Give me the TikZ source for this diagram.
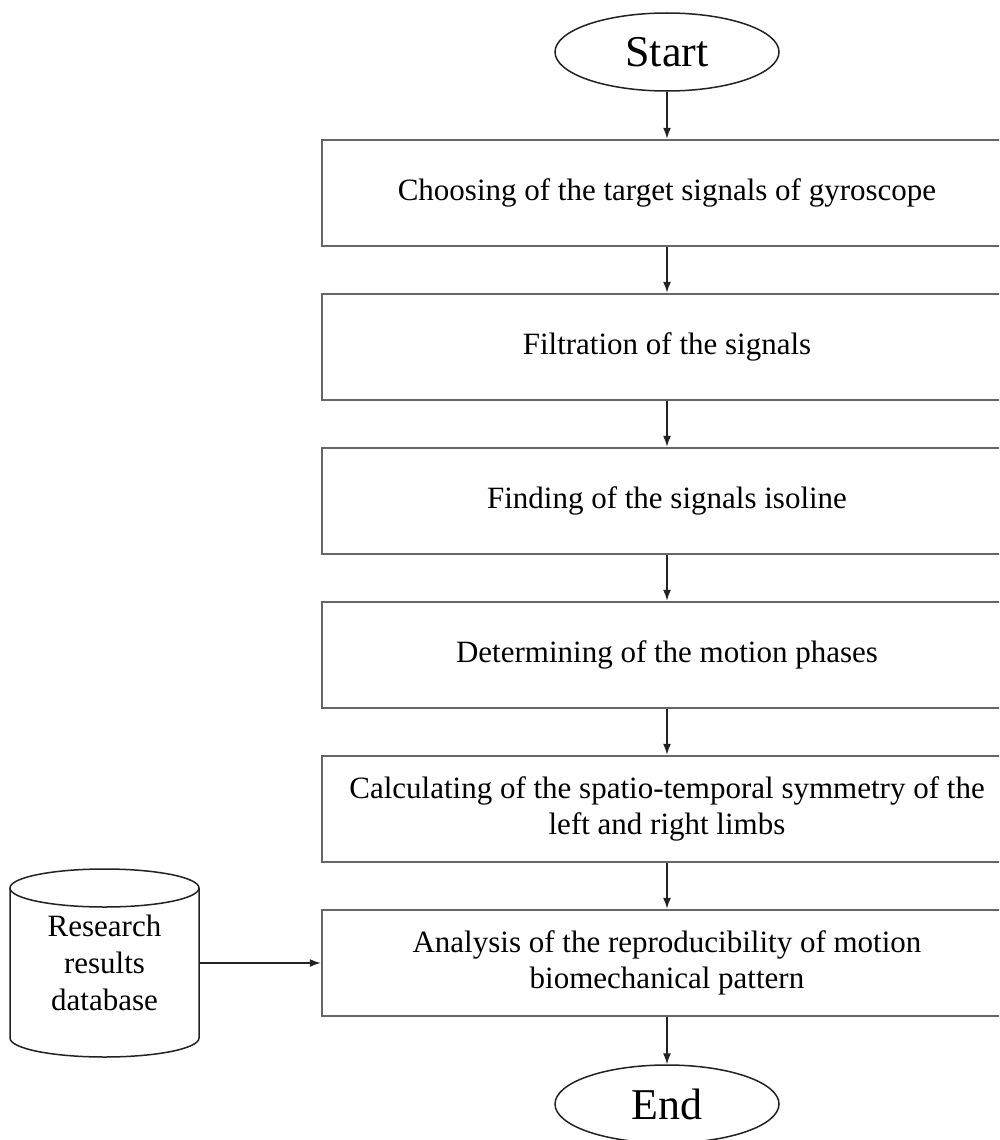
\documentclass[tikz,border=0pt]{standalone}
\usepackage{fontspec}
\setmainfont{Liberation Serif}
\usetikzlibrary{shapes.geometric,arrows.meta}
\definecolor{boxgray}{HTML}{666666}
\definecolor{linedark}{HTML}{222222}
\tikzset{
  stepbox/.style={draw=boxgray, line width=2.5pt, minimum width=690pt, minimum height=106pt,
    inner sep=0pt, align=center, font=\fontsize{31}{36.5}\selectfont},
  term/.style={ellipse, draw=linedark, line width=1.5pt, minimum width=224pt, minimum height=78pt,
    inner sep=0pt, font=\fontsize{44}{50}\selectfont},
  arr/.style={draw=linedark, line width=1.4pt, -{Latex[length=11pt,width=8pt]}},
  cyl/.style={draw=linedark, line width=1.5pt},
  dbtext/.style={minimum width=189pt, minimum height=100pt, inner sep=0pt, align=center,
    font=\fontsize{31}{37}\selectfont}
}
\begin{document}
\begin{tikzpicture}[x=1pt,y=-1pt]
\useasboundingbox (0,0) rectangle (999,1140);
\clip (0,0) rectangle (999,1140);
\fill[white] (0,0) rectangle (999,1140);

\node[term] (start) at (667,52) {Start};
\node[stepbox] (b1) at (667,193) {Choosing of the target signals of gyroscope};
\node[stepbox] (b2) at (667,347) {Filtration of the signals};
\node[stepbox] (b3) at (667,501) {Finding of the signals isoline};
\node[stepbox] (b4) at (667,655) {Determining of the motion phases};
\node[stepbox] (b5) at (667,809) {Calculating of the spatio-temporal symmetry of the\\left and right limbs};
\node[stepbox] (b6) at (667,963) {Analysis of the reproducibility of motion\\biomechanical pattern};
\node[term] (end) at (667,1104) {End};

% database cylinder
\draw[cyl] (10,888) -- (10,1038) arc[start angle=180,end angle=0,x radius=94.5,y radius=19] -- (199,888);
\draw[cyl] (104.5,888) ellipse [x radius=94.5, y radius=19];
\node[dbtext] (db) at (104.5,963) {Research\\results\\database};

\draw[arr] (start) -- (b1);
\draw[arr] (b1) -- (b2);
\draw[arr] (b2) -- (b3);
\draw[arr] (b3) -- (b4);
\draw[arr] (b4) -- (b5);
\draw[arr] (b5) -- (b6);
\draw[arr] (b6) -- (end);
\draw[arr] (db.east) -- (b6.west);
\end{tikzpicture}
\end{document}
